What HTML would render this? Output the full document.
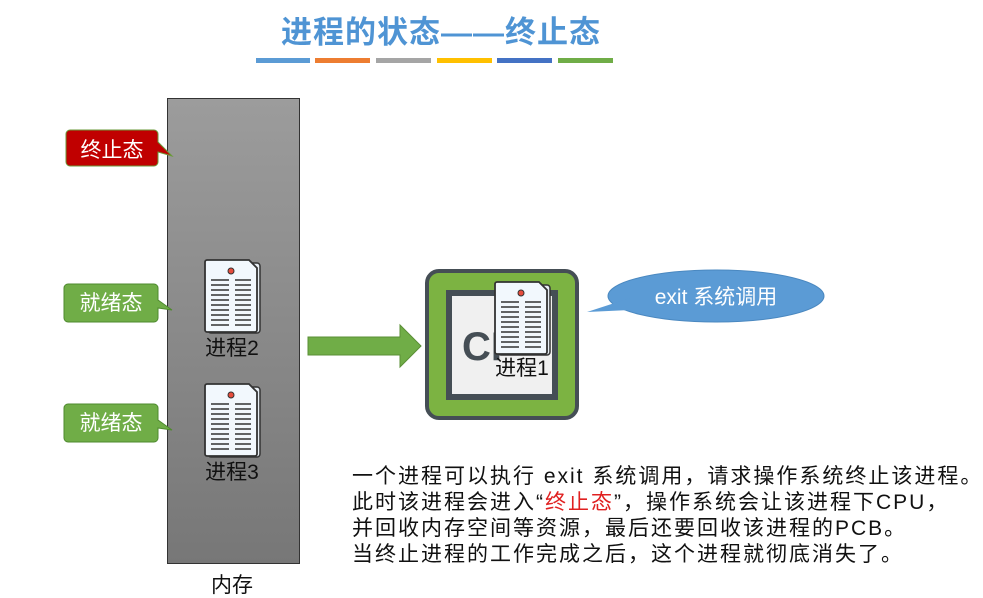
<!DOCTYPE html>
<html><head><meta charset="utf-8"><style>
body{margin:0;width:983px;height:598px;background:#fff;position:relative;overflow:hidden;font-family:"Liberation Sans","Noto Sans CJK SC",sans-serif}
.a{position:absolute}
.t{position:absolute;left:352px;font-size:21px;color:#111;line-height:26px;top:464px;white-space:nowrap;letter-spacing:2px}
</style></head><body>
<div class="a" style="left:0;width:882px;top:7px;text-align:center;font-size:31px;color:#4f94d4;font-weight:bold;letter-spacing:1px">进程的状态——终止态</div>
<div class="a" style="top:58px;left:256px;width:54px;height:5px;background:#5b9bd5"></div>
<div class="a" style="top:58px;left:315px;width:55px;height:5px;background:#ed7d31"></div>
<div class="a" style="top:58px;left:376px;width:55px;height:5px;background:#a5a5a5"></div>
<div class="a" style="top:58px;left:437px;width:55px;height:5px;background:#ffc000"></div>
<div class="a" style="top:58px;left:497px;width:55px;height:5px;background:#4472c4"></div>
<div class="a" style="top:58px;left:558px;width:55px;height:5px;background:#70ad47"></div>

<svg class="a" style="left:0;top:0" width="983" height="598">
<defs>
<linearGradient id="g" x1="0" y1="0" x2="0" y2="1"><stop offset="0" stop-color="#9c9c9c"/><stop offset="1" stop-color="#777"/></linearGradient>
<g id="doc">
<rect x="3" y="3" width="52" height="70" rx="3" fill="#e8eef4" stroke="#333" stroke-width="1.5"/>
<path d="M0 2 a2 2 0 0 1 2-2 h42 l8 8 v62 a2 2 0 0 1-2 2 h-48 a2 2 0 0 1-2-2z" fill="#f2f8fd" stroke="#333" stroke-width="1.8"/>
<circle cx="26" cy="11" r="3" fill="#e74c3c" stroke="#333"/>
<g stroke="#333" stroke-width="1.6">
<path d="M6 20h18M30 20h16M6 25h18M30 25h16M6 30h18M30 30h16M6 35h18M30 35h16M6 40h18M30 40h16M6 45h18M30 45h16M6 50h18M30 50h16M6 55h18M30 55h16M6 60h18M30 60h16M6 65h18M30 65h16"/>
</g></g>
</defs>
<rect x="167.5" y="98.5" width="132" height="465" fill="url(#g)" stroke="#333"/>
<path d="M70 130h84a4 4 0 0 1 4 4v8l14 14-14-4v10a4 4 0 0 1-4 4h-84a4 4 0 0 1-4-4v-28a4 4 0 0 1 4-4z" fill="#c00000" stroke="#6a9a3a"/>
<path d="M68 284h86a4 4 0 0 1 4 4v12l14 10-14-2v10a4 4 0 0 1-4 4h-86a4 4 0 0 1-4-4v-30a4 4 0 0 1 4-4z" fill="#70ad47" stroke="#4e8a2e"/>
<path d="M68 404h86a4 4 0 0 1 4 4v12l14 10-14-2v10a4 4 0 0 1-4 4h-86a4 4 0 0 1-4-4v-30a4 4 0 0 1 4-4z" fill="#70ad47" stroke="#4e8a2e"/>
<text x="112" y="157" font-size="21" fill="#fff" text-anchor="middle" font-family="Liberation Sans,Noto Sans CJK SC,sans-serif">终止态</text>
<text x="111" y="310" font-size="21" fill="#fff" text-anchor="middle" font-family="Liberation Sans,Noto Sans CJK SC,sans-serif">就绪态</text>
<text x="111" y="430" font-size="21" fill="#fff" text-anchor="middle" font-family="Liberation Sans,Noto Sans CJK SC,sans-serif">就绪态</text>
<use href="#doc" x="205" y="260"/>
<use href="#doc" x="205" y="384"/>
<text x="232" y="355" font-size="21" fill="#111" text-anchor="middle" font-family="Liberation Sans,Noto Sans CJK SC,sans-serif">进程2</text>
<text x="232" y="479" font-size="21" fill="#111" text-anchor="middle" font-family="Liberation Sans,Noto Sans CJK SC,sans-serif">进程3</text>
<path d="M308 337h92v-12l21 21-21 21v-12h-92z" fill="#70ad47" stroke="#5a8f35"/>
<rect x="427" y="271" width="150" height="147" rx="12" fill="#7cb342" stroke="#454e55" stroke-width="4"/>
<rect x="449" y="293" width="106" height="104" fill="#f0f0f0" stroke="#454e55" stroke-width="6"/>
<text x="462" y="360" font-size="40" font-weight="bold" fill="#454e55" font-family="Liberation Sans,sans-serif">CP</text>
<use href="#doc" x="495" y="282"/>
<text x="522" y="375" font-size="21" fill="#111" text-anchor="middle" font-family="Liberation Sans,Noto Sans CJK SC,sans-serif">进程1</text>
<ellipse cx="716" cy="296" rx="108" ry="26" fill="#5b9bd5" stroke="#4a88c0"/>
<path d="M587 312 L630 298 L630 310z" fill="#5b9bd5"/>
<text x="716" y="304" font-size="21" fill="#fff" text-anchor="middle" font-family="Liberation Sans,Noto Sans CJK SC,sans-serif">exit 系统调用</text>
<text x="232" y="592" font-size="21" fill="#111" text-anchor="middle" font-family="Liberation Sans,Noto Sans CJK SC,sans-serif">内存</text>
</svg>
<div class="t">一个进程可以执行 exit 系统调用，请求操作系统终止该进程。<br>此时该进程会进入“<span style="color:#e02020">终止态</span>”，操作系统会让该进程下CPU，<br>并回收内存空间等资源，最后还要回收该进程的PCB。<br>当终止进程的工作完成之后，这个进程就彻底消失了。</div>
</body></html>
